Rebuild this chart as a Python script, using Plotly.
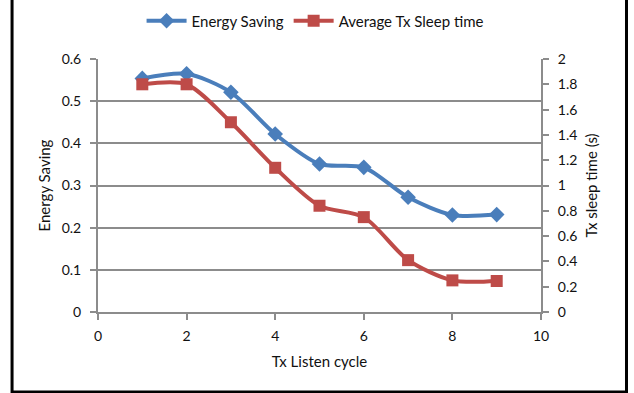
import plotly.graph_objects as go

# Tx listen cycle vs. energy saving (left axis) and average sleep time (right axis)
listen_cycle = [1, 2, 3, 4, 5, 6, 7, 8, 9]
energy_saving = [0.554, 0.565, 0.521, 0.422, 0.351, 0.343, 0.272, 0.230, 0.231]
sleep_time = [1.80, 1.80, 1.50, 1.14, 0.84, 0.75, 0.41, 0.25, 0.245]

x_ticks = [0, 2, 4, 6, 8, 10]
left_ticks = [0, 0.1, 0.2, 0.3, 0.4, 0.5, 0.6]
right_ticks = [0, 0.2, 0.4, 0.6, 0.8, 1, 1.2, 1.4, 1.6, 1.8, 2]

BLUE = "#4A7EBB"
RED = "#BE4B48"
GRID = "#8C8C8C"
FONT = "Lato, 'Open Sans', sans-serif"

fig = go.Figure()
fig.add_trace(go.Scatter(
    x=listen_cycle, y=energy_saving, name="Energy Saving",
    mode="lines+markers",
    line=dict(color=BLUE, width=4, shape="spline", smoothing=0.8),
    marker=dict(symbol="diamond", size=12, color=BLUE),
))
fig.add_trace(go.Scatter(
    x=listen_cycle, y=sleep_time, name="Average Tx Sleep time",
    mode="lines+markers", yaxis="y2",
    line=dict(color=RED, width=4, shape="spline", smoothing=0.8),
    marker=dict(symbol="square", size=12, color=RED),
))

axis_common = dict(
    showline=True, linecolor=GRID, linewidth=2,
    ticks="outside", ticklen=6, tickwidth=2, tickcolor=GRID,
    tickfont=dict(size=14, color="#111"), zeroline=False,
)

fig.update_layout(
    width=634, height=393,
    margin=dict(l=98, r=93, t=59, b=81, autoexpand=False),
    paper_bgcolor="white", plot_bgcolor="white",
    font=dict(family=FONT, size=14, color="#111"),
    showlegend=True,
    legend=dict(
        orientation="h", x=0.49, xanchor="center", y=1.15, yanchor="middle",
        font=dict(size=15), itemwidth=40, tracegroupgap=0,
    ),
    xaxis=dict(
        range=[0, 10], tickvals=x_ticks, showgrid=False,
        ticklabelstandoff=4,
        title=dict(text="Tx Listen cycle", font=dict(size=15), standoff=14),
        **axis_common,
    ),
    yaxis=dict(
        range=[0, 0.6], tickvals=left_ticks, showgrid=True,
        gridcolor=GRID, gridwidth=2, ticklabelstandoff=6,
        title=dict(text="Energy Saving", font=dict(size=15), standoff=7),
        **axis_common,
    ),
    yaxis2=dict(
        range=[0, 2], tickvals=right_ticks, overlaying="y", side="right",
        showgrid=False, ticklabelstandoff=6,
        title=dict(text="Tx sleep time (s)", font=dict(size=15), standoff=10),
        **axis_common,
    ),
    shapes=[dict(
        type="rect", xref="paper", yref="paper",
        x0=-0.194, x1=1.193, y0=-0.316, y1=1.3,
        line=dict(color="black", width=3), layer="above",
    )],
)

fig.write_html("out.html")
